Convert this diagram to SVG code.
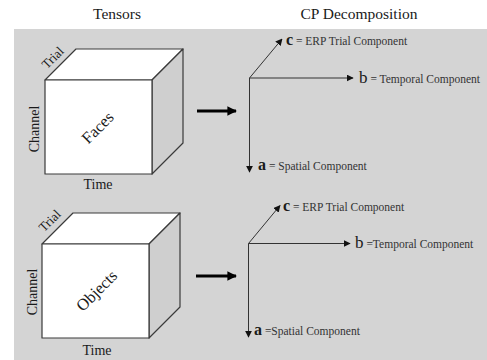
<svg xmlns="http://www.w3.org/2000/svg" width="487" height="360" viewBox="0 0 487 360">
<defs>
<style>
text{font-family:"Liberation Serif","DejaVu Serif",serif;fill:#1a1a1a}
.title{font-size:15.5px;text-anchor:middle}
.lbl{font-size:14px;text-anchor:middle}
.trial{font-size:13px;text-anchor:middle}
.name{font-size:16.5px;text-anchor:middle}
.comp{font-size:11.5px;fill:#333}
.sym{font-size:16px;font-weight:bold}
.symb{font-size:17px}
.edge{stroke:#3a3a3a;stroke-width:1.2;stroke-linejoin:round}
.front{fill:#ffffff}
.top{fill:#ffffff}
.side{fill:#cfcfcf}
.axis{stroke:#333;stroke-width:1;fill:none}
.big{stroke:#000;stroke-width:3;fill:none}
</style>
<marker id="ah" viewBox="0 0 10 10" refX="9" refY="5" markerWidth="7" markerHeight="7" markerUnits="userSpaceOnUse" orient="auto">
<path d="M0,0 L10,5 L0,10 z" fill="#111"/>
</marker>
<marker id="bh" viewBox="0 0 10 10" refX="9" refY="5" markerWidth="3.2" markerHeight="3.2" orient="auto">
<path d="M0,0 L10,5 L0,10 z" fill="#000"/>
</marker>
</defs>
<rect x="0" y="0" width="487" height="360" fill="#ffffff"/>
<rect x="14" y="29" width="473" height="331" fill="#d4d4d4"/>
<text class="title" x="117" y="19">Tensors</text>
<text class="title" x="359" y="19">CP Decomposition</text>

<g id="cube-faces">
<polygon class="top edge" points="45,80 76,49 183,49 152,80"/>
<polygon class="side edge" points="152,80 183,49 183,143 152,174"/>
<rect class="front edge" x="45" y="80" width="107" height="94"/>
<text class="trial" transform="translate(53,58) rotate(-45)" y="4">Trial</text>
<text class="lbl" transform="translate(34,129) rotate(-90)" y="5">Channel</text>
<text class="lbl" x="98" y="189">Time</text>
<text class="name" transform="translate(98,128) rotate(-45)" y="5">Faces</text>
</g>

<g id="cube-objects">
<polygon class="top edge" points="42,244 73,213 180,213 149,244"/>
<polygon class="side edge" points="149,244 180,213 180,307 149,338"/>
<rect class="front edge" x="42" y="244" width="107" height="94"/>
<text class="trial" transform="translate(50,221) rotate(-45)" y="4">Trial</text>
<text class="lbl" transform="translate(32,292) rotate(-90)" y="5">Channel</text>
<text class="lbl" x="97" y="355">Time</text>
<text class="name" transform="translate(97,291) rotate(-45)" y="5">Objects</text>
</g>

<g id="cp-faces">
<text x="286" y="45"><tspan class="sym">c</tspan><tspan class="comp"> = ERP Trial Component</tspan></text>
<text x="359" y="83"><tspan class="symb">b</tspan><tspan class="comp"> = Temporal Component</tspan></text>
<text x="258" y="170"><tspan class="sym">a</tspan><tspan class="comp"> = Spatial Component</tspan></text>
</g>

<g id="cp-objects">
<text x="283" y="211"><tspan class="sym">c</tspan><tspan class="comp"> = ERP Trial Component</tspan></text>
<text x="355" y="248"><tspan class="symb">b</tspan><tspan class="comp"> =Temporal Component</tspan></text>
<text x="254" y="335"><tspan class="sym">a</tspan><tspan class="comp"> =Spatial Component</tspan></text>
</g>

<g id="connectors">
<line class="big" x1="197" y1="111" x2="236" y2="111" marker-end="url(#bh)"/>
<line class="axis" x1="249.5" y1="78" x2="282" y2="39" marker-end="url(#ah)"/>
<line class="axis" x1="249.5" y1="78" x2="353" y2="78" marker-end="url(#ah)"/>
<line class="axis" x1="249.5" y1="78" x2="249.5" y2="172" marker-end="url(#ah)"/>
<line class="big" x1="196" y1="276" x2="236" y2="276" marker-end="url(#bh)"/>
<line class="axis" x1="248.5" y1="243.5" x2="280" y2="205.5" marker-end="url(#ah)"/>
<line class="axis" x1="248.5" y1="243.5" x2="350" y2="243.5" marker-end="url(#ah)"/>
<line class="axis" x1="248.5" y1="243.5" x2="248.5" y2="337" marker-end="url(#ah)"/>
</g>
</svg>
